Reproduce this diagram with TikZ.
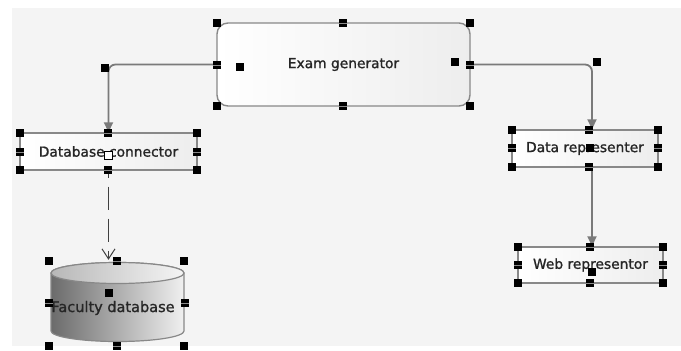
\documentclass[tikz,border=0pt]{standalone}
\usepackage{fontspec}
\setmainfont[FakeBold=0.6]{DejaVu Sans}
\newfontfamily\labelfont[FakeBold=1.2]{DejaVu Sans}
\usetikzlibrary{arrows.meta}
\definecolor{canvasbg}{HTML}{F4F4F4}
\definecolor{edgegray}{HTML}{888888}
\definecolor{linegray}{HTML}{7A7A7A}
\tikzset{
  every node/.style={font=\labelfont\fontsize{13.8}{16}\selectfont, text=black!85},
  boxnode/.style={draw=edgegray, line width=1.4pt, left color=white, right color=black!7,
    inner sep=0pt},
  flow/.style={draw=linegray, line width=1.8pt, rounded corners=7pt,
    -{Triangle[width=9pt,length=10pt]}},
  depend/.style={draw=black!75, line width=1.2pt, dash pattern=on 23pt off 9pt,
    dash phase=16pt, -{Straight Barb[width=13pt,length=10pt,line width=1pt]}},
}
\begin{document}
\begin{tikzpicture}[x=1pt,y=-1pt]
\useasboundingbox (0,0) rectangle (681,351);
\fill[white] (0,0) rectangle (681,351);
\fill[canvasbg] (12,8) rectangle (681,346);

% components
\node[boxnode, rounded corners=11pt, minimum width=253pt, minimum height=83pt]
  (exam) at (343.5,64.5) {Exam generator};
\node[boxnode, minimum width=177pt, minimum height=37pt]
  (dbc) at (108.5,151.5) {Database connector};
\node[boxnode, minimum width=146pt, minimum height=37pt]
  (drep) at (585,148.5) {Data representer};
\node[boxnode, minimum width=145pt, minimum height=36pt]
  (wrep) at (590.5,265) {Web representor};
\coordinate (wrepin) at ([xshift=1.5pt]wrep.north);

% database cylinder
\path[draw=edgegray, line width=1.2pt, left color=black!58, right color=black!6]
  (51,273) -- (51,331) arc[start angle=180, end angle=360, x radius=66.5pt, y radius=10.5pt]
  -- (184,273) arc[start angle=0, end angle=180, x radius=66.5pt, y radius=10.5pt] -- cycle;
\path[draw=edgegray, line width=1.2pt, left color=black!28, right color=black!4]
  (117.5,273) ellipse[x radius=66.5pt, y radius=10.5pt];
\node[minimum width=135pt, minimum height=86pt, inner sep=0pt] (fdb) at (117.5,303) {};
\node[font=\labelfont\fontsize{14.5}{16}\selectfont] (fdblabel) at (113,308) {Faculty database};

% connectors
\draw[flow] (exam.west) -| (dbc.north);
\draw[flow] (exam.east) -| (wrepin |- drep.north);
\draw[flow] (wrepin |- drep.south) -- (wrepin);
\draw[depend] (dbc.south) -- (dbc.south |- fdb.north);

% selection handles
\foreach \x/\y in {217/23,470/23,217/106,470/106,240/67,455/62,105/68,597/62,
  20/133,197/133,20/170,197/170,
  512/130,658/130,512/167,658/167,590/148,
  518/247,663/247,518/283,663/283,592/272,
  49/261,184/261,49/346,184/346,109/293}
  {\fill[black] (\x-4,\y-4) rectangle (\x+4,\y+4);}
\foreach \x/\y in {343/23,343/106,217/65,470/65,
  108/133,108/170,20/152,197/152,
  589/130,589/167,512/148,658/148,
  590/247,590/283,518/265,663/265,
  117/261,117/346,49/303,185/303}
  {\fill[black] (\x-4,\y-4) rectangle (\x+4,\y+4);
   \draw[black!45, line width=0.5pt] (\x-4,\y) -- (\x+4,\y);}
\draw[black, fill=white, line width=1pt] (104,151) rectangle (112,159);
\end{tikzpicture}
\end{document}
